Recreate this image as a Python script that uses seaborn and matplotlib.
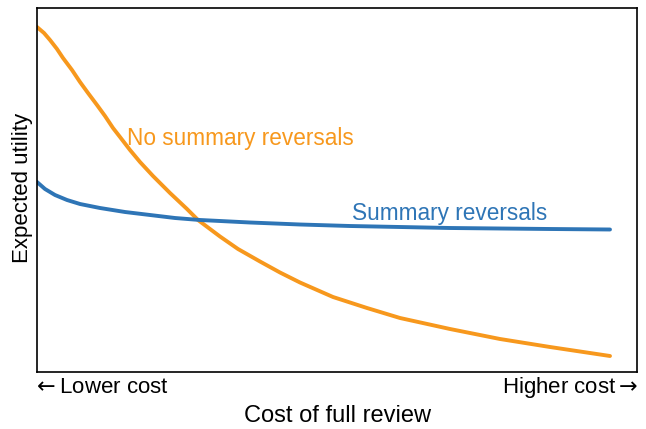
import matplotlib
matplotlib.use("Agg")
import matplotlib.pyplot as plt
import seaborn as sns
import pandas as pd

# Data (x: cost, 0 = lowest; y: expected utility)
orange_x = [0, 7, 13, 20, 26, 35, 43, 51, 60, 68, 76, 83, 93, 103, 116, 133, 150,
            161, 183, 201, 223, 243, 263, 296, 330, 363, 413, 463, 513, 573]
orange_y = [345, 339, 332, 323, 314, 302, 290, 279, 267, 256, 244, 235, 222, 210,
            196, 179, 163, 152, 135.5, 123, 110.5, 99.5, 89.5, 75, 64, 54, 43, 33, 25, 16]
blue_x = [0, 8, 18, 30, 43, 63, 88, 113, 138, 163, 213, 263, 313, 363, 413, 463, 513, 573]
blue_y = [190, 183, 177, 172, 168, 164, 160, 157, 154, 152, 149.5, 147.5, 146,
          145, 144, 143.5, 143, 142.5]

sns.set_theme(style="white")
plt.rcParams['font.family'] = ['Liberation Sans', 'DejaVu Sans']

orange = "#F7981D"
blue = "#2E75B6"

fig = plt.figure(figsize=(6.46, 4.29), dpi=100)
ax = fig.add_axes([37/646, 1-372/429, 600/646, 364/429])

df_o = pd.DataFrame({"x": orange_x, "y": orange_y})
df_b = pd.DataFrame({"x": blue_x, "y": blue_y})
sns.lineplot(data=df_o, x="x", y="y", ax=ax, color=orange, lw=2.8, sort=False)
sns.lineplot(data=df_b, x="x", y="y", ax=ax, color=blue, lw=2.8, sort=False)

ax.set_xlim(0, 600)
ax.set_ylim(0, 364)
ax.set_xticks([])
ax.set_yticks([])
for s in ax.spines.values():
    s.set_color("black")
    s.set_linewidth(1.2)

ax.text(90, 227, "No summary reversals", color=orange, fontsize=16.3, ha="left", va="baseline")
ax.text(315, 152, "Summary reversals", color=blue, fontsize=16.3, ha="left", va="baseline")

ax.set_xlabel("")
ax.set_ylabel("")
ax.text(-5/600, -21/364, r"$\leftarrow$Lower cost", transform=ax.transAxes, ha="left", va="baseline",
        fontsize=16, color="black")
ax.text(1 + 1/600, -21/364, r"Higher cost$\rightarrow$", transform=ax.transAxes, ha="right", va="baseline",
        fontsize=16, color="black")
fig.text(337/646, 1 - 422/429, "Cost of full review", ha="center", va="baseline",
         fontsize=17, color="black")
fig.text(23/646, 1 - 188/429, "Expected utility", ha="center", va="center", rotation=90,
         fontsize=16, color="black")

fig.savefig("out.png", dpi=100)
